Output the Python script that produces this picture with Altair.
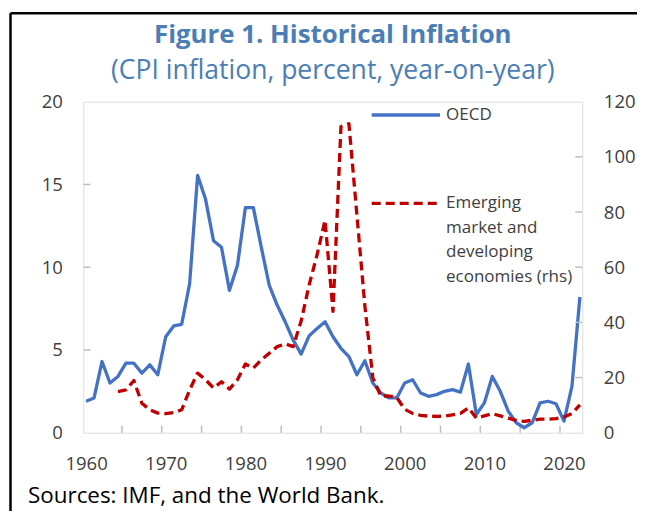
import altair as alt
import pandas as pd

# ---------------- data ----------------
YEARS = list(range(1960, 2023))
OECD = [1.9, 2.1, 4.3, 3.0, 3.4, 4.2, 4.2, 3.6, 4.1, 3.5,
        5.8, 6.45, 6.55, 9.0, 15.55, 14.1, 11.6, 11.2, 8.6, 10.1,
        13.6, 13.6, 11.2, 8.9, 7.7, 6.7, 5.6, 4.75, 5.85, 6.3,
        6.7, 5.8, 5.1, 4.6, 3.5, 4.35, 3.0, 2.4, 2.1, 2.1,
        3.0, 3.2, 2.4, 2.2, 2.3, 2.5, 2.6, 2.45, 4.15, 1.1,
        1.8, 3.4, 2.5, 1.3, 0.6, 0.3, 0.6, 1.8, 1.9, 1.75,
        0.7, 2.8, 8.2]
EM_YEARS = list(range(1964, 2023))
EM = [14.9, 15.5, 18.9, 10.7, 8.3, 7.1,
      6.9, 7.3, 8.3, 15.5, 21.6, 19.2, 16.2, 18.5, 15.8, 19.2,
      24.9, 23.4, 26.4, 28.8, 31.2, 32.2, 31.2, 40.5, 53.5, 64.5,
      77.0, 44.0, 111.0, 112.0, 79.0, 46.0, 20.0, 13.3, 13.3, 12.8,
      8.5, 7.0, 6.3, 6.0, 5.9, 6.0, 6.5, 7.0, 9.0, 5.3,
      6.1, 6.9, 6.1, 5.3, 4.5, 4.1, 4.5, 4.9, 4.9, 5.1,
      5.7, 6.9, 10.1]
X_LABELS = [1960, 1970, 1980, 1990, 2000, 2010, 2020]
X_TICKS = [1964.5, 1969.5, 1974.5, 1979.5, 1984.5, 1989.5, 1994.5,
           1999.5, 2004.5, 2009.5, 2014.5, 2019.5]
LEFT_LABELS = [0, 5, 10, 15, 20]
LEFT_TICKS = [5, 10, 15]
RIGHT_LABELS = [0, 20, 40, 60, 80, 100, 120]
RIGHT_TICKS = [20, 40, 60, 80, 100]
TITLE = "Figure 1. Historical Inflation"
SUBTITLE = "(CPI inflation, percent, year-on-year)"
LEGEND_OECD = "OECD"
LEGEND_EM = "Emerging\nmarket and\ndeveloping\neconomies (rhs)"
SOURCE = "Sources: IMF, and the World Bank."

# ---------------- style ----------------
FONT = "Open Sans"
BLUE = "#4472C4"
RED = "#C00000"
GRAY = "#BFBFBF"
LABEL = "#404040"
TITLE_COLOR = "#4A7EB4"
W, H = 499, 331
PAD_L, PAD_T = 75.3, 93.7
TOTAL_W, TOTAL_H = 629, 503

df_oecd = pd.DataFrame({"year": YEARS, "oecd": OECD})
df_em = pd.DataFrame({"year": EM_YEARS, "em": EM})
df_xt = pd.DataFrame({"year": X_TICKS})
df_lt = pd.DataFrame({"oecd": LEFT_TICKS})
df_rt = pd.DataFrame({"em": RIGHT_TICKS})

xscale = alt.Scale(domain=[1959.65, 2022.3], nice=False, zero=False)
X = alt.X("year:Q", scale=xscale,
          axis=alt.Axis(values=X_LABELS, format="d", title=None, ticks=False,
                        domain=False, grid=False, labelPadding=22,
                        labelFontSize=18.5, labelColor=LABEL, labelFont=FONT))
YL = alt.Y("oecd:Q", scale=alt.Scale(domain=[0, 20], nice=False),
           axis=alt.Axis(values=LEFT_LABELS, orient="left", title=None, ticks=False,
                         domain=False, grid=False, labelPadding=21,
                         labelFontSize=18.5, labelColor=LABEL, labelFont=FONT))
YR = alt.Y("em:Q", scale=alt.Scale(domain=[0, 120], nice=False),
           axis=alt.Axis(values=RIGHT_LABELS, orient="right", title=None, ticks=False,
                         domain=False, grid=False, labelPadding=21,
                         labelFontSize=18.5, labelColor=LABEL, labelFont=FONT))

oecd_line = alt.Chart(df_oecd).mark_line(
    color=BLUE, strokeWidth=3.3, strokeJoin="round").encode(x=X, y=YL)
left_ticks = alt.Chart(df_lt).mark_rule(color=GRAY, strokeWidth=1.5).encode(
    y=YL, x=alt.value(0), x2=alt.value(7))
x_ticks = alt.Chart(df_xt).mark_rule(color=GRAY, strokeWidth=1.5).encode(
    x=X, y=alt.value(H), y2=alt.value(H - 7))
left_group = alt.layer(x_ticks, left_ticks, oecd_line)

em_line = alt.Chart(df_em).mark_line(
    color=RED, strokeWidth=3.3, strokeDash=[9, 5], strokeJoin="round").encode(x=X, y=YR)
right_ticks = alt.Chart(df_rt).mark_rule(color=GRAY, strokeWidth=1.5).encode(
    y=YR, x=alt.value(W - 7), x2=alt.value(W))
right_group = alt.layer(right_ticks, em_line)

one = pd.DataFrame({"a": [0]})
leg_blue = alt.Chart(one).mark_rule(color=BLUE, strokeWidth=3.3).encode(
    x=alt.value(288.4), x2=alt.value(356.7), y=alt.value(13.3))
leg_red = alt.Chart(one).mark_rule(color=RED, strokeWidth=3.3, strokeDash=[9, 5]).encode(
    x=alt.value(288.4), x2=alt.value(356.7), y=alt.value(101.6))
leg_txt1 = alt.Chart(pd.DataFrame({"t": [LEGEND_OECD]})).mark_text(
    align="left", baseline="middle", font=FONT, fontSize=17, color=LABEL).encode(
    text="t:N", x=alt.value(362.7), y=alt.value(13.3))
leg_txt2 = alt.Chart(pd.DataFrame({"t": [LEGEND_EM]})).mark_text(
    align="left", baseline="middle", font=FONT, fontSize=17, color=LABEL,
    lineBreak="\n", lineHeight=24.6).encode(
    text="t:N", x=alt.value(362.7), y=alt.value(101.6))
src = alt.Chart(pd.DataFrame({"t": [SOURCE]})).mark_text(
    align="left", baseline="middle", font=FONT, fontSize=22.4, color="#000000").encode(
    text="t:N", x=alt.value(-55.3), y=alt.value(394.5))
title_txt = alt.Chart(pd.DataFrame({"t": [TITLE]})).mark_text(
    align="center", baseline="alphabetic", font=FONT, fontSize=25.8,
    fontWeight="bold", color=TITLE_COLOR).encode(
    text="t:N", x=alt.value(W / 2), y=alt.value(-58.7))
subtitle_txt = alt.Chart(pd.DataFrame({"t": [SUBTITLE]})).mark_text(
    align="center", baseline="alphabetic", font=FONT, fontSize=26.5,
    color=TITLE_COLOR).encode(
    text="t:N", x=alt.value(W / 2), y=alt.value(-23.0))
border_top = alt.Chart(one).mark_rule(color="#000000", strokeWidth=2.5).encode(
    x=alt.value(-72.8), x2=alt.value(TOTAL_W - PAD_L), y=alt.value(-88.4))
border_left = alt.Chart(one).mark_rule(color="#000000", strokeWidth=2.5).encode(
    x=alt.value(-72.8), y=alt.value(-88.4), y2=alt.value(TOTAL_H - PAD_T))

chart = alt.layer(
    left_group, right_group, leg_blue, leg_red, leg_txt1, leg_txt2, src,
    title_txt, subtitle_txt, border_top, border_left
).resolve_scale(y="independent").properties(
    width=W, height=H,
    autosize=alt.AutoSizeParams(type="none"),
    padding={"left": PAD_L, "top": PAD_T,
             "right": TOTAL_W - PAD_L - W, "bottom": TOTAL_H - PAD_T - H},
).configure_view(stroke=GRAY, strokeWidth=1.5).configure(background="white")

chart.save("out.html", embed_options={"renderer": "svg", "actions": False})
